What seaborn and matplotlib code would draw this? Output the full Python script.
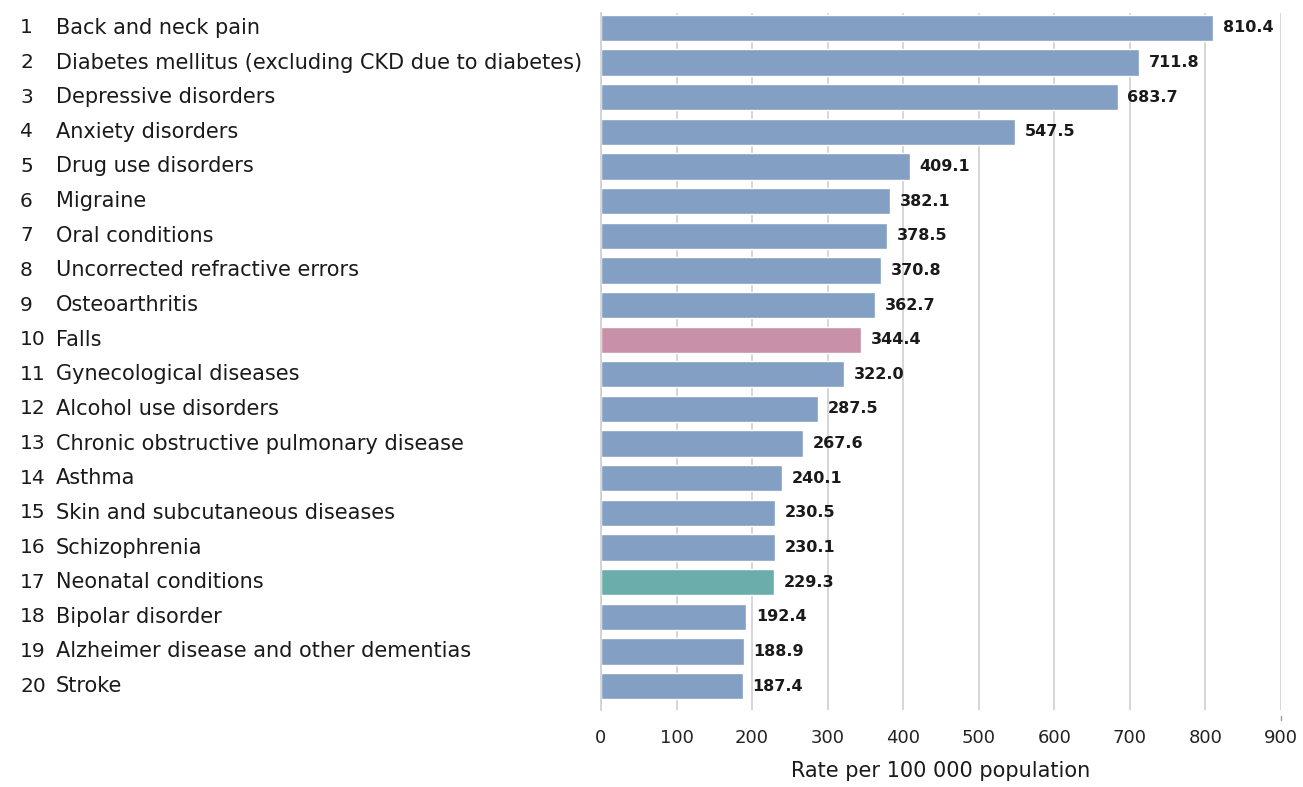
import matplotlib
matplotlib.use('Agg')
import matplotlib.pyplot as plt
import matplotlib.transforms as mtransforms
import seaborn as sns

ranks = list(range(1, 21))
causes = ['Back and neck pain',
          'Diabetes mellitus (excluding CKD due to diabetes)',
          'Depressive disorders',
          'Anxiety disorders',
          'Drug use disorders',
          'Migraine',
          'Oral conditions',
          'Uncorrected refractive errors',
          'Osteoarthritis',
          'Falls',
          'Gynecological diseases',
          'Alcohol use disorders',
          'Chronic obstructive pulmonary disease',
          'Asthma',
          'Skin and subcutaneous diseases',
          'Schizophrenia',
          'Neonatal conditions',
          'Bipolar disorder',
          'Alzheimer disease and other dementias',
          'Stroke']
rates = [810.4, 711.8, 683.7, 547.5, 409.1, 382.1, 378.5, 370.8, 362.7, 344.4,
         322.0, 287.5, 267.6, 240.1, 230.5, 230.1, 229.3, 192.4, 188.9, 187.4]

blue = '#83a0c4'
pink = '#c990a9'
teal = '#6badaa'
highlight = {'Falls': pink, 'Neonatal conditions': teal}
palette = {c: highlight.get(c, blue) for c in causes}

sns.set_style('white')
plt.rcParams['font.family'] = ['DejaVu Sans']

fig = plt.figure(figsize=(13.03, 7.87), dpi=100)
ax = fig.add_axes([0.4612, 0.0978, 0.5219, 0.8857])

sns.barplot(x=rates, y=causes, hue=causes, palette=palette, legend=False,
            orient='h', width=0.76, saturation=1, ax=ax)

for cont in ax.containers:
    ax.bar_label(cont, fmt='%.1f', padding=7, fontsize=11.5, fontweight='bold',
                 color='#1a1a1a')

ax.set_xlim(0, 900)
ax.set_ylim(19.69, -0.43)
ax.set_xticks(range(0, 1000, 100))
ax.xaxis.grid(True, color='#d0d0d0', linewidth=1.2)
ax.set_axisbelow(True)
ax.set_yticks([])
ax.set_ylabel('')
ax.tick_params(axis='x', length=0, pad=14, labelsize=13, labelcolor='#222222')
ax.set_xlabel('Rate per 100 000 population', fontsize=15, labelpad=10,
              color='#1a1a1a')
for s in ['top', 'right', 'bottom']:
    ax.spines[s].set_visible(False)
ax.spines['left'].set_color('#d0d0d0')
ax.spines['left'].set_linewidth(1.2)

# small tick below the last gridline
ax.axvline(900, ymin=-0.015, ymax=-0.008, color='#999999', lw=1, clip_on=False)

trans = mtransforms.blended_transform_factory(fig.transFigure, ax.transData)
for i, (r, c) in enumerate(zip(ranks, causes)):
    ax.text(20 / 1303, i, str(r), transform=trans, ha='left', va='center',
            fontsize=14.5, color='#1a1a1a')
    ax.text(56 / 1303, i, c, transform=trans, ha='left', va='center',
            fontsize=15, color='#1a1a1a')

fig.savefig('out.png', dpi=100)
